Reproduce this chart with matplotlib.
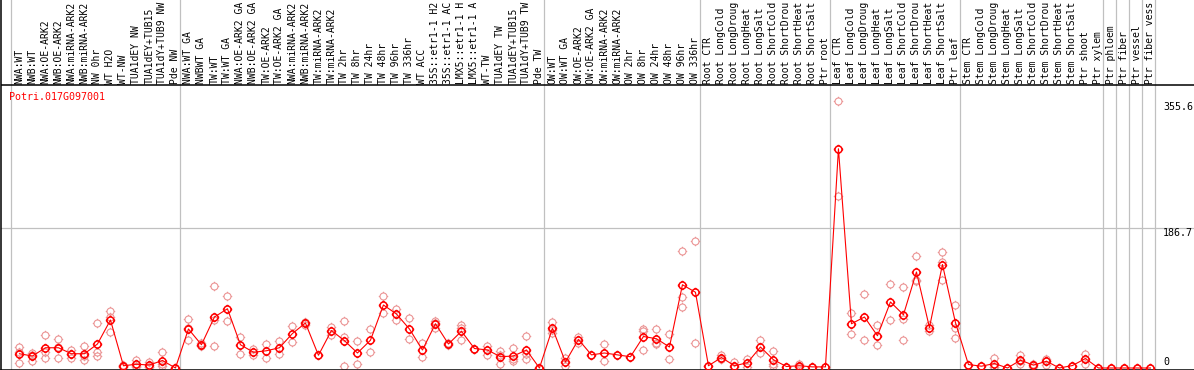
import matplotlib
matplotlib.use("Agg")
import matplotlib.pyplot as plt
from matplotlib.path import Path
import numpy as np

gene_id = "Potri.017G097001"

labels = [
    "NWA:WT", "NWB:WT", "NWA:OE-ARK2", "NWB:OE-ARK2", "NWA:miRNA-ARK2", "NWB:miRNA-ARK2",
    "NW 0hr", "WT H2O", "WT-NW", "TUA1dEY NW", "TUA1dEY+TUB15", "TUA1dY+TUB9 NW", "Pde NW",
    "NWA:WT GA", "NWBWT GA", "TW:WT", "TW:WT GA", "NWA:OE-ARK2 GA", "NWB:OE-ARK2 GA",
    "TW:OE-ARK2", "TW:OE-ARK2 GA", "NWA:miRNA-ARK2", "NWB:miRNA-ARK2", "TW:miRNA-ARK2",
    "TW:miRNA-ARK2", "TW 2hr", "TW 8hr", "TW 24hr", "TW 48hr", "TW 96hr", "TW 336hr",
    "WT ACC", "35S::etr1-1 H2", "35S::etr1-1 AC", "LMX5::etr1-1 H", "LMX5::etr1-1 A",
    "WT-TW", "TUA1dEY TW", "TUA1dEY+TUB15", "TUA1dY+TUB9 TW", "Pde TW",
    "OW:WT", "OW:WT GA", "OW:OE-ARK2", "OW:OE-ARK2 GA", "OW:miRNA-ARK2", "OW:miRNA-ARK2",
    "OW 2hr", "OW 8hr", "OW 24hr", "OW 48hr", "OW 96hr", "OW 336hr",
    "Root CTR", "Root LongCold", "Root LongDroug", "Root LongHeat", "Root LongSalt",
    "Root ShortCold", "Root ShortDrou", "Root ShortHeat", "Root ShortSalt", "Ptr root",
    "Leaf CTR", "Leaf LongCold", "Leaf LongDroug", "Leaf LongHeat", "Leaf LongSalt",
    "Leaf ShortCold", "Leaf ShortDrou", "Leaf ShortHeat", "Leaf ShortSalt", "Ptr leaf",
    "Stem CTR", "Stem LongCold", "Stem LongDroug", "Stem LongHeat", "Stem LongSalt",
    "Stem ShortCold", "Stem ShortDrou", "Stem ShortHeat", "Stem ShortSalt", "Ptr shoot",
    "Ptr xylem", "Ptr phloem", "Ptr fiber", "Ptr vessel", "Ptr fiber vess",
]

means = [
    19, 16, 27, 27, 19, 19, 32, 64, 3, 5, 4, 10, 0,
    52, 31, 68, 79, 31, 21, 23, 27, 46, 60, 17, 50, 36.5, 20, 37, 84, 72, 52, 24,
    59, 32, 49, 26, 24, 15, 16, 24, 0,
    53, 8, 38, 17.5, 20, 17.5, 15, 42, 39, 28, 111, 101,
    3, 14, 3, 7, 28, 11, 2, 3, 1.5, 1.5,
    292.3, 59, 68, 43, 88, 71, 128, 54, 138, 60.5,
    4.6, 2.4, 6, 0, 10.4, 3.8, 9, 0, 3.3, 12.6, 0,
    0, 0, 0, 0,
]

replicates = [
    [28, 22, 7], [20, 9, 18], [44, 22, 13], [39, 28, 13], [24, 14, 19], [30, 11, 16],
    [60, 21, 16], [76, 48, 68], [2, 4, 3], [11, 2, 3], [8, 2, 2], [21, 3, 6], [0, 0],
    [65, 38, 53], [33, 29, 31], [109, 64, 29], [96, 63], [41.5, 19], [25, 17], [32.5, 14],
    [36, 19], [56, 35], [62, 58], [17], [55, 44], [63, 42, 3], [36.5, 5], [52, 22],
    [96, 73], [79, 64], [67, 39], [34, 15], [63, 60, 54], [33.5, 31], [57, 37, 53],
    [26, 26], [30, 18], [23, 6, 17], [27, 10, 12], [43, 19, 12], [0, 0],
    [62, 47, 51], [13, 3], [42, 34], [17.5], [32.5, 9], [17.5], [15], [52.5, 49, 24],
    [52, 34, 32], [46, 12], [156, 95, 82], [169, 33],
    [3], [18, 12, 12], [8, 1], [12.6, 1], [37, 20], [23, 5, 3], [2], [5, 2], [2, 1], [1.5],
    [355.6, 229], [73, 45], [99, 38], [57, 31], [112, 64], [108, 66, 38], [150, 118, 116],
    [49, 58], [155, 142, 118], [84, 54, 40],
    [4], [2.4], [14, 2, 2], [0], [17.5, 5, 9], [5, 2], [12, 10, 4], [0], [3], [19, 6], [0],
    [0], [0], [0], [0],
]

group_bounds = [0, 13, 41, 53, 63, 73, 84, 85, 86, 87, 88]
ref_line = 186.7
tick_values = [355.6, 186.7, 0]
tick_texts = ["355.6", "186.7", "0"]

# ---- style ----
W, H = 1194, 370
RED = "#ff0000"
PINK = "#eb9494"
GRID = "#c0c0c0"
FONT = "DejaVu Sans Mono"
FS = 7.2
LFS = 7.0

# custom marker: circle with four small ticks
circ = Path.unit_circle()
verts = list(circ.vertices)
codes = list(circ.codes)
for dx, dy in [(1, 0), (-1, 0), (0, 1), (0, -1)]:
    verts += [(dx * 1.0, dy * 1.0), (dx * 1.35, dy * 1.35)]
    codes += [Path.MOVETO, Path.LINETO]
mk = Path(verts, codes)

fig = plt.figure(figsize=(W / 100, H / 100), dpi=100)
ax = fig.add_axes([1.0 / W, 0.5 / H, (W - 1.0) / W, 369.5 / H])

px_per_unit = 0.75
zero_py = 368.0
ax.set_xlim((1 - 11) / 13.0, (W - 11) / 13.0)
ax.set_ylim((zero_py - 369.5) / px_per_unit, zero_py / px_per_unit)

for s in ["top", "right"]:
    ax.spines[s].set_visible(False)
for s in ["left", "bottom"]:
    ax.spines[s].set_linewidth(1.1)
    ax.spines[s].set_color("black")
ax.set_xticks([])
ax.set_yticks([])

# grid / separators
for b in group_bounds:
    ax.axvline(b, color=GRID, lw=0.9, zorder=1)
ax.axhline(ref_line, color=GRID, lw=0.9, zorder=1)
header_v = (zero_py - 85.2) / px_per_unit
ax.axhline(header_v, color="black", lw=1.1, zorder=5)

xpos = np.arange(len(means)) + 0.65

# replicates
for x, reps in zip(xpos, replicates):
    ax.plot([x] * len(reps), reps, linestyle="none", marker=mk, markersize=6.8,
            markerfacecolor="none", markeredgecolor=PINK, markeredgewidth=0.8, zorder=2)

# mean line
ax.plot(xpos, means, color=RED, lw=0.8, zorder=3)
ax.plot(xpos, means, linestyle="none", marker=mk, markersize=6.8,
        markerfacecolor="none", markeredgecolor=RED, markeredgewidth=1.1, zorder=4)

# column labels
label_v = (zero_py - 83.8) / px_per_unit
for x, lab in zip(xpos, labels):
    ax.text(x, label_v, lab, rotation=90, ha="center", va="bottom",
            fontsize=LFS, family=FONT, clip_on=False)

# y value labels
tick_x = (1163 - 11) / 13.0
offsets = [-5.7, -5.0, 6.0]
for v, t, off in zip(tick_values, tick_texts, offsets):
    ax.annotate(t, xy=(tick_x, v), xytext=(0, off), textcoords="offset pixels",
                ha="left", va="center", fontsize=FS, family=FONT, annotation_clip=False)

fig.text(9.0 / W, 1 - 97.5 / H, gene_id, color=RED, ha="left", va="center",
         fontsize=FS, family=FONT)

fig.savefig("out.png", dpi=100)
